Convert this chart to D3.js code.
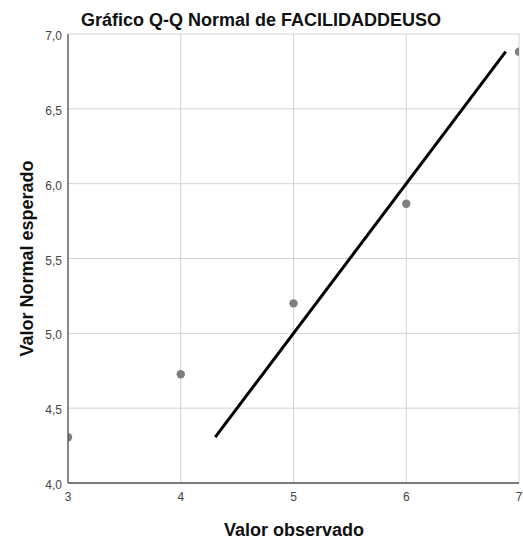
<!DOCTYPE html>
<html>
<head>
<meta charset="utf-8">
<script src="https://cdn.jsdelivr.net/npm/d3@7"></script>
<style>
  body { margin: 0; background: #fff; }
  #chart { width: 523px; height: 544px; }
</style>
</head>
<body>
<div id="chart"></div>
<script>
(function() {

  "use strict";

  var title = 'Gráfico Q-Q Normal de FACILIDADDEUSO';
  var xLabel = 'Valor observado';
  var yLabel = 'Valor Normal esperado';

  // observed values and their expected normal quantiles
  var observed = [3, 4, 5, 6, 7];
  var expected = [4.306, 4.727, 5.200, 5.866, 6.882];

  var xTicks = [3, 4, 5, 6, 7];
  var yTicks = [4.0, 4.5, 5.0, 5.5, 6.0, 6.5, 7.0];

  var width = 523;
  var height = 544;
  var margin = {
    top: 34,
    right: 4,
    bottom: 61,
    left: 68
  };
  var innerW = width - margin.left - margin.right;
  var innerH = height - margin.top - margin.bottom;

  var fmt = function(d) {
    return d3.format('.1f')(d).replace('.', ',');
  };

  var svg = d3.select('#chart').append('svg')
    .attr('width', width)
    .attr('height', height)
    .style('font-family', 'Liberation Sans, Arial, sans-serif');

  var x = d3.scaleLinear().domain([3, 7]).range([0, innerW]);
  var y = d3.scaleLinear().domain([4, 7]).range([innerH, 0]);

  svg.append('defs').append('clipPath')
    .attr('id', 'plotClip')
    .append('rect')
    .attr('x', 0)
    .attr('y', 0)
    .attr('width', innerW)
    .attr('height', innerH);

  var g = svg.append('g')
    .attr('transform', 'translate(' + margin.left + ',' + margin.top + ')');

  // grid
  g.append('g')
    .selectAll('line')
    .data(xTicks)
    .enter().append('line')
    .attr('x1', x)
    .attr('x2', x)
    .attr('y1', 0)
    .attr('y2', innerH)
    .attr('stroke', '#d2d2d2')
    .attr('stroke-width', 1);

  g.append('g')
    .selectAll('line')
    .data(yTicks)
    .enter().append('line')
    .attr('x1', 0)
    .attr('x2', innerW)
    .attr('y1', y)
    .attr('y2', y)
    .attr('stroke', '#d2d2d2')
    .attr('stroke-width', 1);

  var plot = g.append('g').attr('clip-path', 'url(#plotClip)');

  // reference line y = x over the range of expected values
  var lineExtent = d3.extent(expected);
  plot.append('line')
    .attr('x1', x(lineExtent[0]))
    .attr('y1', y(lineExtent[0]))
    .attr('x2', x(lineExtent[1]))
    .attr('y2', y(lineExtent[1]))
    .attr('stroke', '#000')
    .attr('stroke-width', 3);

  var points = observed.map(function(d, i) {
    return { obs: d, exp: expected[i] };
  });

  plot.selectAll('circle')
    .data(points)
    .enter().append('circle')
    .attr('cx', function(d) { return x(d.obs); })
    .attr('cy', function(d) { return y(d.exp); })
    .attr('r', 4.2)
    .attr('fill', '#7f7f7f');

  // axes lines
  g.append('line')
    .attr('x1', 0).attr('x2', 0)
    .attr('y1', 0).attr('y2', innerH)
    .attr('stroke', '#555').attr('stroke-width', 1.3);
  g.append('line')
    .attr('x1', 0).attr('x2', innerW)
    .attr('y1', innerH).attr('y2', innerH)
    .attr('stroke', '#555').attr('stroke-width', 1.3);

  // tick labels
  g.append('g')
    .selectAll('text')
    .data(yTicks)
    .enter().append('text')
    .attr('x', -6)
    .attr('y', function(d) { return y(d) + 6; })
    .attr('text-anchor', 'end')
    .attr('font-size', 12)
    .attr('fill', '#444')
    .text(fmt);

  g.append('g')
    .selectAll('text')
    .data(xTicks)
    .enter().append('text')
    .attr('x', x)
    .attr('y', innerH + 18)
    .attr('text-anchor', 'middle')
    .attr('font-size', 12)
    .attr('fill', '#444')
    .text(function(d) { return d; });

  // titles
  svg.append('text')
    .attr('x', 261)
    .attr('y', 26)
    .attr('text-anchor', 'middle')
    .attr('font-size', 18)
    .attr('font-weight', 'bold')
    .attr('fill', '#111')
    .text(title);

  svg.append('text')
    .attr('x', 294)
    .attr('y', 536)
    .attr('text-anchor', 'middle')
    .attr('font-size', 18)
    .attr('font-weight', 'bold')
    .attr('fill', '#111')
    .text(xLabel);

  svg.append('text')
    .attr('transform', 'translate(33,' + (margin.top + innerH / 2) + ') rotate(-90)')
    .attr('text-anchor', 'middle')
    .attr('font-size', 18)
    .attr('font-weight', 'bold')
    .attr('fill', '#111')
    .text(yLabel);

})();
</script>
</body>
</html>
